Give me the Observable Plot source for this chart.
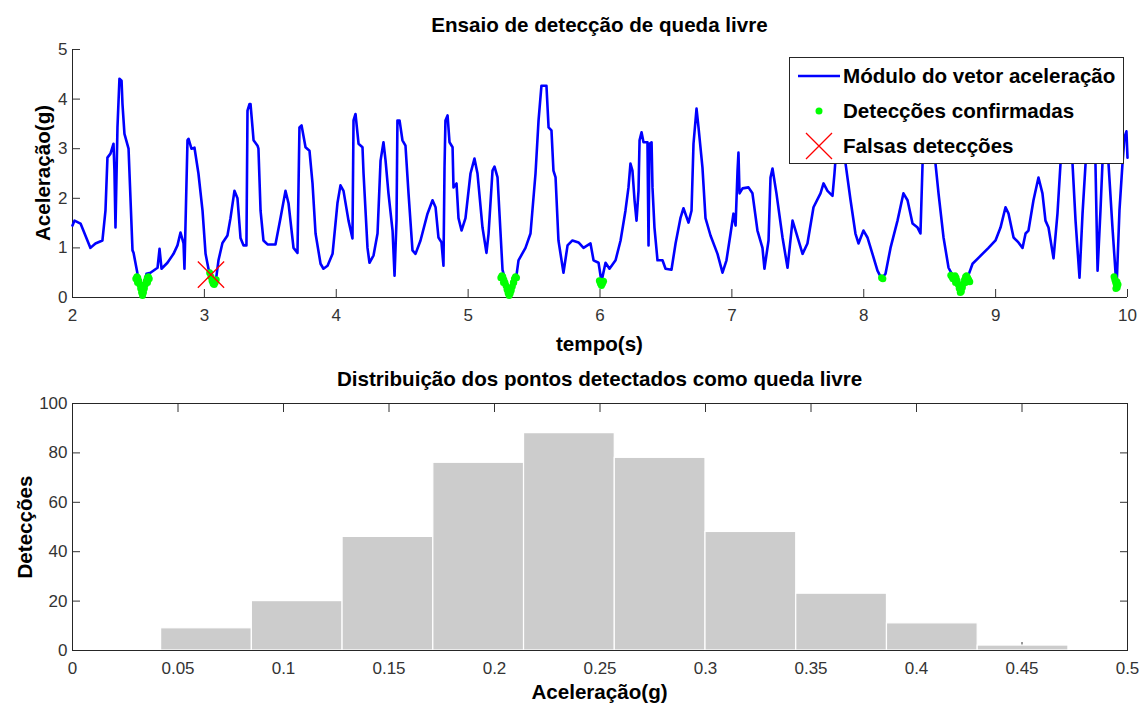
<!DOCTYPE html>
<html>
<head>
<meta charset="utf-8">
<script src="https://cdn.jsdelivr.net/npm/d3@7"></script>
<script src="https://cdn.jsdelivr.net/npm/@observablehq/plot@0.6"></script>
<style>
  html, body { margin: 0; padding: 0; background: #fff; }
  #fig { position: relative; width: 1144px; height: 709px; overflow: hidden; font-family: "Liberation Sans", Arial, Helvetica, sans-serif; }
  .panel { position: absolute; left: 0; }
  .lbl { position: absolute; font-weight: bold; font-size: 20.6px; line-height: 24px; color: #000; white-space: nowrap; }
  .hcenter { left: 72px; width: 1055px; text-align: center; }
  .vlabel { transform: translate(-50%, -50%) rotate(-90deg); }
  #legend { position: absolute; left: 789px; top: 57px; width: 335px; height: 107px; box-sizing: border-box; border: 1px solid #262626; background: #fff; }
  #legend .row { position: absolute; left: 0; height: 30px; width: 100%; }
  #legend .row svg { position: absolute; left: 0; top: 0; }
  #legend .row span { position: absolute; left: 53px; top: 3px; font-weight: bold; font-size: 20.6px; line-height: 24px; }
  svg text { font-family: "Liberation Sans", Arial, Helvetica, sans-serif; }
</style>
</head>
<body>
<div id="fig"></div>
<script>
// ---- Ensaio: módulo do vetor aceleração (g) ao longo do tempo (s)
const tempo = [
  2.000, 2.015, 2.061, 2.136, 2.174, 2.227, 2.250, 2.265, 2.288, 2.311, 2.318, 2.326, 2.341, 2.356, 2.372, 2.379,
  2.394, 2.425, 2.455, 2.463, 2.493, 2.531, 2.561, 2.591, 2.645, 2.660, 2.675, 2.720, 2.766, 2.796, 2.819, 2.842,
  2.849, 2.872, 2.880, 2.902, 2.925, 2.955, 2.986, 3.009, 3.031, 3.062, 3.084, 3.107, 3.137, 3.175, 3.198, 3.228,
  3.251, 3.274, 3.297, 3.319, 3.327, 3.342, 3.350, 3.365, 3.373, 3.403, 3.410, 3.426, 3.448, 3.479, 3.539, 3.577,
  3.615, 3.638, 3.676, 3.706, 3.721, 3.737, 3.767, 3.797, 3.820, 3.843, 3.881, 3.903, 3.934, 3.972, 4.009, 4.032,
  4.055, 4.093, 4.123, 4.131, 4.146, 4.169, 4.199, 4.207, 4.237, 4.252, 4.283, 4.313, 4.336, 4.358, 4.374, 4.396,
  4.427, 4.442, 4.457, 4.464, 4.480, 4.502, 4.525, 4.548, 4.578, 4.601, 4.639, 4.692, 4.730, 4.753, 4.775, 4.798,
  4.813, 4.821, 4.828, 4.844, 4.859, 4.882, 4.889, 4.912, 4.927, 4.950, 4.980, 5.018, 5.048, 5.071, 5.109, 5.139,
  5.155, 5.185, 5.200, 5.223, 5.246, 5.261, 5.314, 5.367, 5.382, 5.435, 5.473, 5.511, 5.534, 5.556, 5.594, 5.610,
  5.632, 5.647, 5.663, 5.685, 5.723, 5.754, 5.791, 5.837, 5.875, 5.928, 5.951, 5.989, 6.011, 6.042, 6.072, 6.118,
  6.156, 6.193, 6.216, 6.231, 6.246, 6.262, 6.277, 6.292, 6.300, 6.315, 6.330, 6.360, 6.368, 6.375, 6.391, 6.398,
  6.413, 6.436, 6.474, 6.497, 6.542, 6.573, 6.610, 6.633, 6.671, 6.694, 6.709, 6.732, 6.747, 6.777, 6.800, 6.838,
  6.891, 6.929, 6.959, 6.990, 7.012, 7.028, 7.043, 7.050, 7.058, 7.081, 7.126, 7.156, 7.194, 7.232, 7.247, 7.278,
  7.293, 7.308, 7.338, 7.384, 7.422, 7.460, 7.483, 7.536, 7.573, 7.619, 7.672, 7.695, 7.725, 7.763, 7.778, 7.809,
  7.839, 7.862, 7.900, 7.937, 7.960, 7.998, 8.028, 8.066, 8.104, 8.135, 8.165, 8.203, 8.256, 8.301, 8.332, 8.370,
  8.408, 8.430, 8.446, 8.476, 8.514, 8.544, 8.567, 8.605, 8.643, 8.673, 8.734, 8.794, 8.825, 8.870, 8.946, 8.999,
  9.037, 9.075, 9.098, 9.136, 9.173, 9.204, 9.227, 9.249, 9.287, 9.325, 9.355, 9.378, 9.401, 9.439, 9.469, 9.492,
  9.537, 9.583, 9.606, 9.636, 9.659, 9.682, 9.719, 9.757, 9.773, 9.795, 9.810, 9.833, 9.856, 9.886, 9.917, 9.939,
  9.962, 9.977, 9.992, 10.000
];
const aceleracao = [
  1.45, 1.55, 1.49, 1.00, 1.09, 1.15, 1.75, 2.82, 2.90, 3.10, 2.56, 1.41, 3.43, 4.41, 4.37, 3.90,
  3.30, 3.00, 0.95, 0.90, 0.48, 0.05, 0.48, 0.50, 0.60, 0.98, 0.58, 0.70, 0.88, 1.05, 1.31, 1.09,
  0.58, 3.17, 3.20, 3.00, 3.02, 2.50, 1.75, 0.88, 0.58, 0.38, 0.28, 0.75, 1.10, 1.25, 1.60, 2.15,
  2.00, 1.20, 1.05, 1.05, 3.77, 3.90, 3.90, 3.43, 3.17, 3.06, 3.00, 1.75, 1.15, 1.07, 1.07, 1.60,
  2.15, 1.90, 1.00, 0.90, 3.43, 3.47, 3.03, 2.96, 2.30, 1.29, 0.68, 0.58, 0.64, 0.88, 1.90, 2.26,
  2.15, 1.55, 1.19, 3.57, 3.70, 3.10, 3.03, 2.50, 1.00, 0.70, 0.85, 1.29, 2.76, 3.13, 2.76, 2.10,
  1.35, 0.44, 1.55, 3.57, 3.57, 3.17, 3.06, 2.10, 0.95, 0.88, 1.15, 1.69, 1.96, 1.82, 1.21, 1.11,
  0.64, 2.62, 3.57, 3.67, 3.13, 3.03, 2.22, 2.30, 1.60, 1.35, 1.60, 2.50, 2.80, 2.50, 1.41, 0.90,
  1.29, 2.56, 2.64, 2.42, 1.29, 0.55, 0.05, 0.45, 0.75, 1.00, 1.29, 2.50, 3.57, 4.27, 4.27, 3.43,
  3.37, 2.56, 2.42, 1.15, 0.50, 1.05, 1.15, 1.11, 1.00, 1.09, 0.75, 0.70, 0.32, 0.70, 0.58, 0.75,
  1.15, 1.75, 2.22, 2.70, 2.56, 1.96, 1.55, 2.15, 3.17, 3.33, 3.13, 3.13, 1.05, 3.10, 3.13, 2.22,
  1.41, 0.75, 0.75, 0.58, 0.56, 1.09, 1.60, 1.80, 1.51, 1.75, 3.10, 3.81, 3.43, 2.62, 1.60, 1.25,
  0.88, 0.50, 0.75, 1.29, 1.69, 1.45, 2.56, 2.92, 2.10, 2.20, 2.22, 2.10, 1.35, 1.00, 0.58, 1.15,
  2.42, 2.60, 2.10, 1.21, 0.60, 1.55, 1.35, 0.88, 1.09, 1.82, 2.10, 2.30, 2.15, 2.05, 2.50, 3.60,
  3.40, 2.70, 1.96, 1.29, 1.09, 1.35, 1.21, 0.88, 0.54, 0.38, 0.48, 1.00, 1.55, 2.10, 1.96, 1.49,
  1.41, 1.29, 2.70, 3.80, 3.60, 2.70, 2.10, 1.21, 0.60, 0.45, 0.08, 0.45, 0.68, 0.80, 1.00, 1.15,
  1.41, 1.82, 1.69, 1.21, 1.11, 1.00, 1.29, 1.35, 1.96, 2.42, 2.10, 1.55, 1.41, 0.79, 1.69, 2.70,
  3.50, 2.70, 1.55, 0.40, 1.69, 2.70, 3.40, 2.70, 0.54, 1.75, 2.70, 3.30, 2.70, 1.41, 0.20, 1.75,
  2.70, 3.23, 3.35, 2.82
];

// ---- Detecções confirmadas (tempo, aceleração)
const deteccaoTempo = [
  // ~2.5 s
  2.480, 2.488, 2.495, 2.502, 2.510, 2.517, 2.524, 2.531, 2.538, 2.545, 2.552, 2.560, 2.567, 2.575, 2.582, 2.493, 2.569, 2.531, 2.520, 2.542,
  // ~3.05 s
  3.040, 3.050, 3.058, 3.066, 3.074, 3.082, 3.090,
  // ~5.3 s
  5.248, 5.256, 5.263, 5.271, 5.279, 5.287, 5.295, 5.303, 5.311, 5.319, 5.327, 5.335, 5.343, 5.351, 5.359, 5.367, 5.268, 5.346, 5.310,
  // ~6.0 s
  5.995, 6.003, 6.011, 6.019, 6.027,
  // ~8.14 s
  8.135, 8.145,
  // ~8.7 s
  8.660, 8.668, 8.676, 8.684, 8.692, 8.700, 8.708, 8.716, 8.724, 8.732, 8.740, 8.748, 8.756, 8.764, 8.772, 8.780, 8.788, 8.796, 8.804, 8.696, 8.772, 8.734,
  // ~9.92 s
  9.898, 9.904, 9.910, 9.916, 9.922, 9.928, 9.912, 9.920
];
const deteccaoAcel = [
  0.38, 0.42, 0.40, 0.34, 0.26, 0.18, 0.10, 0.04, 0.10, 0.18, 0.26, 0.34, 0.40, 0.42, 0.38, 0.30, 0.30, 0.15, 0.25, 0.25,
  0.50, 0.42, 0.34, 0.28, 0.26, 0.30, 0.36,
  0.40, 0.44, 0.42, 0.36, 0.30, 0.24, 0.16, 0.09, 0.04, 0.08, 0.14, 0.22, 0.30, 0.38, 0.42, 0.40, 0.30, 0.30, 0.18,
  0.34, 0.28, 0.24, 0.28, 0.33,
  0.40, 0.38,
  0.45, 0.42, 0.38, 0.40, 0.44, 0.40, 0.34, 0.26, 0.18, 0.10, 0.12, 0.20, 0.28, 0.36, 0.42, 0.44, 0.40, 0.36, 0.32, 0.30, 0.30, 0.20,
  0.42, 0.36, 0.30, 0.24, 0.20, 0.26, 0.18, 0.32
];

// ---- Falsas detecções
const falsaTempo = [3.05];
const falsaAcel = [0.46];

// ---- Histograma das acelerações detectadas
const binEdges = [0.042, 0.085, 0.128, 0.171, 0.214, 0.257, 0.300, 0.343, 0.386, 0.429, 0.472];
const binCounts = [9, 20, 46, 76, 88, 78, 48, 23, 11, 2];

// ---- Eixos e textos
const tempoTicks = [2, 3, 4, 5, 6, 7, 8, 9, 10];
const acelTicks = [0, 1, 2, 3, 4, 5];
const histXTicks = [0, 0.05, 0.1, 0.15, 0.2, 0.25, 0.3, 0.35, 0.4, 0.45, 0.5];
const histYTicks = [0, 20, 40, 60, 80, 100];
const titulo1 = "Ensaio de detecção de queda livre";
const titulo2 = "Distribuição dos pontos detectados como queda livre";
const eixoTempo = "tempo(s)";
const eixoAcel = "Aceleração(g)";
const eixoDeteccoes = "Detecções";
const legendaLinha = "Módulo do vetor aceleração";
const legendaConf = "Detecções confirmadas";
const legendaFalsa = "Falsas detecções";

const sinal = tempo.map((t, i) => ({t, a: aceleracao[i]}));
const deteccoes = deteccaoTempo.map((t, i) => ({t, a: deteccaoAcel[i]}));
const falsas = falsaTempo.map((t, i) => ({t, a: falsaAcel[i]}));
const bins = binCounts.map((c, i) => ({x1: binEdges[i], x2: binEdges[i + 1], n: c}));

const BLUE = "#0000ff", GREEN = "#00ff00", RED = "#ff0000", AXIS = "#262626";
const fmt = d => String(+(+d).toFixed(2));

const baseStyle = {
  fontFamily: "'Liberation Sans', Arial, Helvetica, sans-serif",
  fontSize: "17px",
  color: "#333333",
  background: "transparent",
  overflow: "visible"
};

// Painel superior: sinal no tempo
const chartTempo = Plot.plot({
  width: 1144,
  height: 360,
  marginTop: 49,
  marginBottom: 63,
  marginLeft: 72,
  marginRight: 17,
  style: baseStyle,
  x: {domain: [2, 10]},
  y: {domain: [0, 5]},
  marks: [
    Plot.axisX({ticks: tempoTicks, tickSize: -8, tickPadding: 19, tickFormat: fmt, label: null}),
    Plot.axisY({ticks: acelTicks, tickSize: -8, tickPadding: 13, tickFormat: fmt, label: null}),
    Plot.ruleY([0], {stroke: AXIS}),
    Plot.ruleX([2], {stroke: AXIS}),
    Plot.line(sinal, {x: "t", y: "a", stroke: BLUE, strokeWidth: 2.6, strokeLinejoin: "round"}),
    Plot.dot(deteccoes, {x: "t", y: "a", r: 3.5, fill: GREEN, stroke: "none"}),
    Plot.dot(falsas, {x: "t", y: "a", symbol: "times", r: 12, stroke: RED, strokeWidth: 1.3})
  ]
});

// Painel inferior: histograma
const chartHist = Plot.plot({
  width: 1144,
  height: 349,
  marginTop: 43,
  marginBottom: 59,
  marginLeft: 72,
  marginRight: 17,
  style: baseStyle,
  x: {domain: [0, 0.5]},
  y: {domain: [0, 100]},
  marks: [
    Plot.axisX({ticks: histXTicks, tickSize: -8, tickPadding: 19, tickFormat: fmt, label: null}),
    Plot.axisX({anchor: "top", ticks: histXTicks, tickSize: -8, tickFormat: () => "", label: null}),
    Plot.axisY({ticks: histYTicks, tickSize: -8, tickPadding: 13, tickFormat: fmt, label: null}),
    Plot.axisY({anchor: "right", ticks: histYTicks, tickSize: -8, tickFormat: () => "", label: null}),
    Plot.rectY(bins, {x1: "x1", x2: "x2", y: "n", fill: "#cccccc", stroke: "#ffffff", strokeWidth: 1.2}),
    Plot.frame({stroke: AXIS})
  ]
});

const fig = document.getElementById("fig");
chartTempo.classList.add("panel");
chartTempo.style.top = "0px";
chartHist.classList.add("panel");
chartHist.style.top = "360px";
fig.appendChild(chartTempo);
fig.appendChild(chartHist);

function addLabel(text, css, cls) {
  const d = document.createElement("div");
  d.className = "lbl " + (cls || "");
  d.textContent = text;
  Object.assign(d.style, css);
  fig.appendChild(d);
  return d;
}
addLabel(titulo1, {top: "13px"}, "hcenter");
addLabel(eixoTempo, {top: "332px"}, "hcenter");
addLabel(eixoAcel, {left: "43px", top: "173px"}, "vlabel");
addLabel(titulo2, {top: "367px"}, "hcenter");
addLabel(eixoAcel, {top: "680px"}, "hcenter");
addLabel(eixoDeteccoes, {left: "25px", top: "527px"}, "vlabel");

// Legenda
const legend = document.createElement("div");
legend.id = "legend";
const ns = "http://www.w3.org/2000/svg";
function legendRow(topPx, text, draw) {
  const row = document.createElement("div");
  row.className = "row";
  row.style.top = topPx + "px";
  const svg = document.createElementNS(ns, "svg");
  svg.setAttribute("width", "52");
  svg.setAttribute("height", "30");
  draw(svg);
  row.appendChild(svg);
  const s = document.createElement("span");
  s.textContent = text;
  row.appendChild(s);
  legend.appendChild(row);
}
function el(name, attrs) {
  const e = document.createElementNS(ns, name);
  for (const k in attrs) e.setAttribute(k, attrs[k]);
  return e;
}
legendRow(3, legendaLinha, svg => svg.appendChild(el("line", {x1: 8, x2: 50, y1: 15, y2: 15, stroke: BLUE, "stroke-width": 2.6})));
legendRow(38, legendaConf, svg => svg.appendChild(el("circle", {cx: 29, cy: 15, r: 3.5, fill: GREEN})));
legendRow(73, legendaFalsa, svg => {
  svg.appendChild(el("path", {d: "M16,2L42,28M42,2L16,28", stroke: RED, "stroke-width": 1.3, fill: "none"}));
});
fig.appendChild(legend);
</script>
</body>
</html>
